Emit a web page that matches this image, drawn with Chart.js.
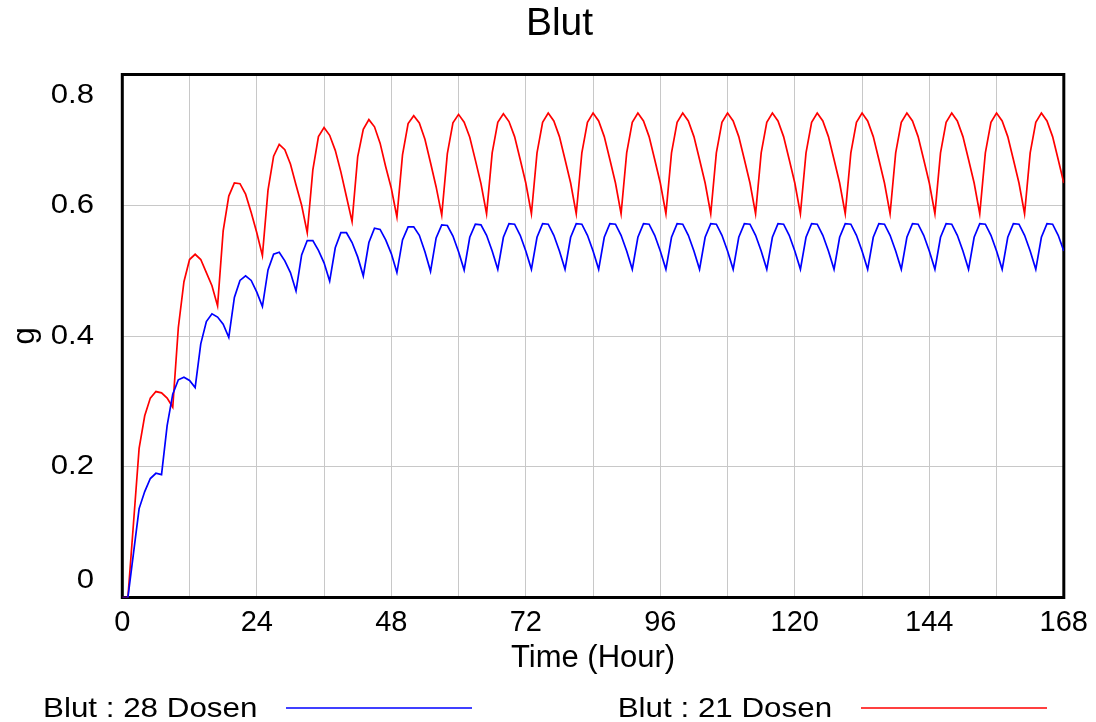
<!DOCTYPE html>
<html>
<head>
<meta charset="utf-8">
<script src="https://cdn.jsdelivr.net/npm/chart.js@4.4.1/dist/chart.umd.min.js"></script>
<style>
  html, body { margin: 0; padding: 0; background: #ffffff; }
  #wrap { width: 1096px; height: 722px; position: relative; }
</style>
</head>
<body>
<div id="wrap"><canvas id="c" width="1096" height="722"></canvas></div>
<script>
// ---------------- data ----------------
const chartTitle = 'Blut';
const xAxisTitle = 'Time (Hour)';
const yAxisTitle = 'g';
const hours = Array.from({ length: 169 }, (_, i) => i);   // 0 .. 168 h
const xTickLabels = [0, 24, 48, 72, 96, 120, 144, 168];
const yTickValues = [0, 0.2, 0.4, 0.6, 0.8];
const yTickLabels = ['0', '0.2', '0.4', '0.6', '0.8'];
const series28Label = 'Blut : 28 Dosen';
const series21Label = 'Blut : 21 Dosen';

// Blut : 28 Dosen (blue), hourly values t = 0 .. 168
const blut28 = [
  0, 0, 0.068, 0.136, 0.162, 0.182, 0.190, 0.188,
  0.263, 0.311, 0.333, 0.337, 0.332, 0.321,
  0.388, 0.422, 0.434, 0.429, 0.418, 0.398,
  0.459, 0.485, 0.492, 0.485, 0.467, 0.445,
  0.501, 0.525, 0.528, 0.515, 0.497, 0.469,
  0.524, 0.546, 0.546, 0.531, 0.512, 0.484,
  0.535, 0.558, 0.558, 0.543, 0.521, 0.492,
  0.543, 0.565, 0.563, 0.547, 0.526, 0.497,
  0.547, 0.567, 0.567, 0.554, 0.529, 0.499,
  0.550, 0.570, 0.569, 0.553, 0.529, 0.501,
  0.551, 0.571, 0.570, 0.554, 0.530, 0.502,
  0.551, 0.572, 0.571, 0.554, 0.530, 0.502,
  0.551, 0.572, 0.571, 0.554, 0.530, 0.502,
  0.551, 0.572, 0.571, 0.554, 0.530, 0.502,
  0.551, 0.572, 0.571, 0.554, 0.530, 0.502,
  0.551, 0.572, 0.571, 0.554, 0.530, 0.502,
  0.551, 0.572, 0.571, 0.554, 0.530, 0.502,
  0.551, 0.572, 0.571, 0.554, 0.530, 0.502,
  0.551, 0.572, 0.571, 0.554, 0.530, 0.502,
  0.551, 0.572, 0.571, 0.554, 0.530, 0.502,
  0.551, 0.572, 0.571, 0.554, 0.530, 0.502,
  0.551, 0.572, 0.571, 0.554, 0.530, 0.502,
  0.551, 0.572, 0.571, 0.554, 0.530, 0.502,
  0.551, 0.572, 0.571, 0.554, 0.530, 0.502,
  0.551, 0.572, 0.571, 0.554, 0.530, 0.502,
  0.551, 0.572, 0.571, 0.554, 0.530, 0.502,
  0.551, 0.572, 0.571, 0.554, 0.530, 0.502,
  0.551, 0.572, 0.571, 0.554, 0.530
];

// Blut : 21 Dosen (red), hourly values t = 0 .. 168
const blut21 = [
  0, 0, 0.114, 0.228, 0.278, 0.305, 0.315, 0.313, 0.305, 0.291,
  0.413, 0.483, 0.517, 0.525, 0.517, 0.497, 0.477, 0.446,
  0.561, 0.614, 0.634, 0.633, 0.617, 0.589, 0.558, 0.523,
  0.623, 0.675, 0.693, 0.685, 0.663, 0.631, 0.600, 0.558,
  0.654, 0.705, 0.719, 0.707, 0.684, 0.651, 0.613, 0.575,
  0.674, 0.716, 0.731, 0.720, 0.695, 0.659, 0.626, 0.582,
  0.677, 0.725, 0.737, 0.726, 0.701, 0.665, 0.628, 0.585,
  0.679, 0.726, 0.739, 0.727, 0.704, 0.669, 0.633, 0.587,
  0.680, 0.727, 0.740, 0.728, 0.705, 0.670, 0.634, 0.587,
  0.680, 0.727, 0.741, 0.729, 0.705, 0.670, 0.634, 0.587,
  0.680, 0.727, 0.741, 0.729, 0.705, 0.670, 0.634, 0.587,
  0.680, 0.727, 0.741, 0.729, 0.705, 0.670, 0.634, 0.587,
  0.680, 0.727, 0.741, 0.729, 0.705, 0.670, 0.634, 0.587,
  0.680, 0.727, 0.741, 0.729, 0.705, 0.670, 0.634, 0.587,
  0.680, 0.727, 0.741, 0.729, 0.705, 0.670, 0.634, 0.587,
  0.680, 0.727, 0.741, 0.729, 0.705, 0.670, 0.634, 0.587,
  0.680, 0.727, 0.741, 0.729, 0.705, 0.670, 0.634, 0.587,
  0.680, 0.727, 0.741, 0.729, 0.705, 0.670, 0.634, 0.587,
  0.680, 0.727, 0.741, 0.729, 0.705, 0.670, 0.634, 0.587,
  0.680, 0.727, 0.741, 0.729, 0.705, 0.670, 0.634, 0.587,
  0.680, 0.727, 0.741, 0.729, 0.705, 0.670, 0.634
];

// ---------------- rendering ----------------
const FONT = '"Liberation Sans", Arial, Helvetica, sans-serif';
const TEXT_STRETCH = 1.11;

function drawStretchedText(ctx, text, x, y, align, size, sx) {
  ctx.save();
  ctx.translate(x, y);
  ctx.scale(sx, 1);
  ctx.font = size + 'px ' + FONT;
  ctx.fillStyle = '#000000';
  ctx.textAlign = align;
  ctx.textBaseline = 'middle';
  ctx.fillText(text, 0, 0);
  ctx.restore();
}

const framePlugin = {
  id: 'frame',
  beforeDatasetsDraw(chart) {
    const { ctx, chartArea: a } = chart;
    ctx.save();
    ctx.strokeStyle = '#000000';
    ctx.lineWidth = 3;
    ctx.strokeRect(a.left, a.top, a.right - a.left, a.bottom - a.top);
    ctx.restore();
  }
};

const yLabelPlugin = {
  id: 'yLabels',
  afterDraw(chart) {
    const { ctx, chartArea: a } = chart;
    const ys = chart.scales.y;
    yTickValues.forEach((v, i) => {
      let py = ys.getPixelForValue(v);
      py = Math.min(Math.max(py, a.top + 20.5), a.bottom - 17.5);
      drawStretchedText(ctx, yTickLabels[i], 94, py, 'right', 28, TEXT_STRETCH);
    });
  }
};

const legendLayout = [
  { textX: 43, lineX1: 286, lineX2: 472 },
  { textX: 617.7, lineX1: 861, lineX2: 1047 }
];
const bottomLegendPlugin = {
  id: 'bottomLegend',
  afterDraw(chart) {
    const { ctx } = chart;
    chart.data.datasets.forEach((ds, i) => {
      const L = legendLayout[i];
      drawStretchedText(ctx, ds.label, L.textX, 709.3, 'left', 28, 1.12);
      ctx.save();
      ctx.strokeStyle = ds.borderColor;
      ctx.lineWidth = 1.5;
      ctx.beginPath();
      ctx.moveTo(L.lineX1, 708);
      ctx.lineTo(L.lineX2, 708);
      ctx.stroke();
      ctx.restore();
    });
  }
};

const gridColor = '#c8c8c8';

new Chart(document.getElementById('c').getContext('2d'), {
  type: 'line',
  data: {
    datasets: [
      {
        label: series28Label,
        data: hours.map((h, i) => ({ x: h, y: blut28[i] })),
        borderColor: '#0000ff',
        borderWidth: 1.7,
        pointRadius: 0,
        tension: 0,
        fill: false
      },
      {
        label: series21Label,
        data: hours.map((h, i) => ({ x: h, y: blut21[i] })),
        borderColor: '#ff0000',
        borderWidth: 1.7,
        pointRadius: 0,
        tension: 0,
        fill: false
      }
    ]
  },
  options: {
    responsive: false,
    animation: false,
    devicePixelRatio: 1,
    layout: { padding: { left: 52.7, right: 29.7, top: 0, bottom: 0 } },
    plugins: {
      legend: { display: false },
      tooltip: { enabled: false },
      title: {
        display: true,
        text: chartTitle,
        color: '#000000',
        font: { family: FONT, size: 39, weight: 'normal' },
        padding: { top: 1.3, bottom: 26.4 }
      }
    },
    scales: {
      x: {
        type: 'linear',
        position: 'bottom',
        min: 0,
        max: 168,
        grid: { color: gridColor, lineWidth: 1, drawTicks: false },
        border: { display: false },
        ticks: {
          stepSize: 12,
          autoSkip: false,
          maxRotation: 0,
          padding: 8,
          color: '#000000',
          font: { family: FONT, size: 29 },
          callback: (v) => (xTickLabels.includes(v) ? String(v) : '')
        },
        title: {
          display: true,
          text: xAxisTitle,
          color: '#000000',
          font: { family: FONT, size: 31 },
          padding: { top: 0, bottom: 45 }
        },
        afterFit(scale) { scale.height = 124.5; }
      },
      y: {
        type: 'linear',
        min: 0,
        max: 0.8,
        grid: { color: gridColor, lineWidth: 1, drawTicks: false },
        border: { display: false },
        ticks: { stepSize: 0.2, display: false },
        title: {
          display: true,
          text: yAxisTitle,
          color: '#000000',
          font: { family: FONT, size: 31 },
          padding: { top: -46.2, bottom: 0 }
        },
        afterFit(scale) { scale.width = 69.6; }
      }
    }
  },
  plugins: [framePlugin, yLabelPlugin, bottomLegendPlugin]
});
</script>
</body>
</html>
